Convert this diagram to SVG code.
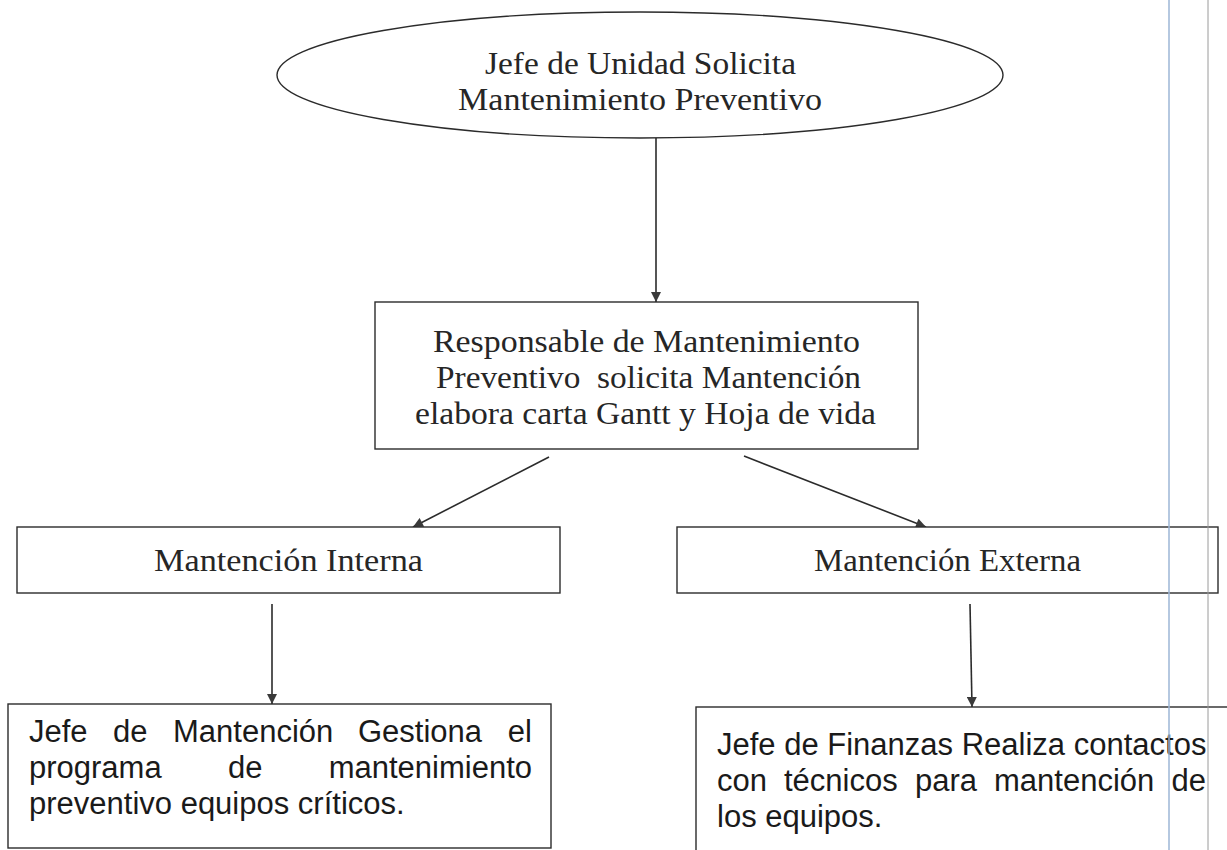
<svg xmlns="http://www.w3.org/2000/svg" width="1227" height="850" viewBox="0 0 1227 850">
  <style>
    .shape { fill: #ffffff; stroke: #2b2b2b; stroke-width: 1.4; }
    .serif { font-family: "Liberation Serif", "DejaVu Serif", serif; font-size: 32px; fill: #262626; }
    .sans { font-family: "Liberation Sans", Arial, sans-serif; font-size: 31px; fill: #1a1a1a; }
    .conn { stroke: #2b2b2b; stroke-width: 1.6; fill: none; marker-end: url(#arrow); }
    .guide-blue { stroke: #9db6d6; stroke-width: 1.5; }
    .guide-gray { stroke: #9a9a9a; stroke-width: 1; }
  </style>
  <defs>
    <marker id="arrow" viewBox="0 0 10 10" refX="10" refY="5" markerWidth="12" markerHeight="10" markerUnits="userSpaceOnUse" orient="auto">
      <path d="M0,0 L10,5 L0,10 z" fill="#3a3a3a"/>
    </marker>
  </defs>
  <rect width="1227" height="850" fill="#ffffff"/>

  <g id="connectors">
    <line class="conn" x1="656" y1="138" x2="656" y2="302"/>
    <line class="conn" x1="549" y1="457" x2="413" y2="527"/>
    <line class="conn" x1="744" y1="456" x2="926" y2="527"/>
    <line class="conn" x1="272" y1="604" x2="272" y2="704"/>
    <line class="conn" x1="970" y1="604" x2="972" y2="707"/>
  </g>

  <g id="node-jefe-unidad">
    <ellipse class="shape" cx="640" cy="75" rx="363" ry="63"/>
    <text class="serif" x="485" y="74" textLength="311" lengthAdjust="spacingAndGlyphs">Jefe de Unidad Solicita</text>
    <text class="serif" x="458" y="110" textLength="364" lengthAdjust="spacingAndGlyphs">Mantenimiento Preventivo</text>
  </g>

  <g id="node-responsable">
    <rect class="shape" x="375" y="302" width="543" height="147"/>
    <text class="serif" x="433" y="352" textLength="427" lengthAdjust="spacingAndGlyphs">Responsable de Mantenimiento</text>
    <text class="serif" x="436" y="388" textLength="425" lengthAdjust="spacingAndGlyphs" xml:space="preserve">Preventivo  solicita Mantención</text>
    <text class="serif" x="415" y="424" textLength="461" lengthAdjust="spacingAndGlyphs">elabora carta Gantt y Hoja de vida</text>
  </g>

  <g id="node-interna">
    <rect class="shape" x="17" y="527" width="543" height="66"/>
    <text class="serif" x="154" y="571" textLength="269" lengthAdjust="spacingAndGlyphs">Mantención Interna</text>
  </g>

  <g id="node-externa">
    <rect class="shape" x="677" y="527" width="541" height="66"/>
    <text class="serif" x="814" y="571" textLength="267" lengthAdjust="spacingAndGlyphs">Mantención Externa</text>
  </g>

  <g id="node-jefe-mantencion">
    <rect class="shape" x="8" y="704" width="543" height="144"/>
    <text class="sans" y="742"><tspan x="29">Jefe</tspan><tspan x="113">de</tspan><tspan x="173">Mantención</tspan><tspan x="358">Gestiona</tspan><tspan x="532" text-anchor="end">el</tspan></text>
    <text class="sans" y="778"><tspan x="29">programa</tspan><tspan x="228">de</tspan><tspan x="532" text-anchor="end">mantenimiento</tspan></text>
    <text class="sans" x="29" y="814">preventivo equipos críticos.</text>
  </g>

  <g id="node-jefe-finanzas">
    <rect class="shape" x="696" y="707" width="560" height="160"/>
    <text class="sans" x="717" y="755">Jefe de Finanzas Realiza contactos</text>
    <text class="sans" y="791"><tspan x="717">con</tspan><tspan x="784">técnicos</tspan><tspan x="915">para</tspan><tspan x="994">mantención</tspan><tspan x="1206" text-anchor="end">de</tspan></text>
    <text class="sans" x="717" y="827">los equipos.</text>
  </g>

  <line class="guide-blue" x1="1169" y1="0" x2="1169" y2="850"/>
  <line class="guide-gray" x1="1208" y1="0" x2="1208" y2="850"/>
</svg>
